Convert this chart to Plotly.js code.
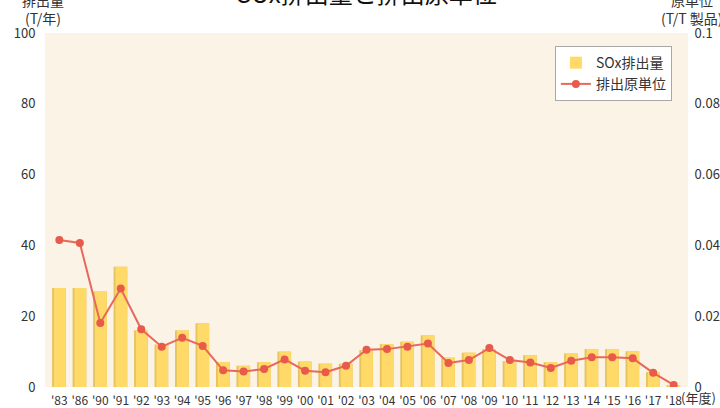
<!DOCTYPE html>
<html>
<head>
<meta charset="utf-8">
<script src="https://cdn.plot.ly/plotly-3.0.1.min.js"></script>
<style>html,body{margin:0;padding:0;background:#fff;}#chart{width:720px;height:408px;}</style>
</head>
<body>
<div id="chart"></div>
<script>
const years = ["'83","'86","'90","'91","'92","'93","'94","'95","'96","'97","'98","'99","'00","'01","'02","'03","'04","'05","'06","'07","'08","'09","'10","'11","'12","'13","'14","'15","'16","'17","'18"];
const emissions = [28, 28, 27, 34, 16, 12, 16, 18, 7, 6, 7, 10, 7.2, 6.6, 6.6, 10.4, 12.1, 12.8, 14.6, 8.3, 9.7, 10.7, 7.3, 9.0, 7.0, 9.5, 10.7, 10.7, 10.1, 4.2, 0.5];
const intensity = [0.0415, 0.0407, 0.0181, 0.0278, 0.0163, 0.0114, 0.0139, 0.0116, 0.0047, 0.0044, 0.0051, 0.0078, 0.0046, 0.0042, 0.0060, 0.0105, 0.0107, 0.0114, 0.0123, 0.0068, 0.0076, 0.0110, 0.0076, 0.0069, 0.0054, 0.0074, 0.0084, 0.0084, 0.0081, 0.0040, 0.0006];
const leftTicks = [0, 20, 40, 60, 80, 100];
const rightTicks = [0, 0.02, 0.04, 0.06, 0.08, 0.1];
const rightTickText = ["0", "0.02", "0.04", "0.06", "0.08", "0.1"];
const gridTicks = [20, 40, 60, 80];

const font = "'Noto Sans CJK JP', 'Noto Sans', sans-serif";

const traces = [
  {type: 'bar', x: years, y: emissions, width: 0.67, offset: -0.35,
   marker: {color: '#E6C35E'}, showlegend: false, hoverinfo: 'skip', yaxis: 'y'},
  {type: 'bar', x: years, y: emissions, width: 0.57, offset: -0.26, name: 'SOx排出量',
   marker: {color: '#FFDA68'}, yaxis: 'y'},
  {type: 'scatter', mode: 'lines+markers', x: years, y: intensity, name: '排出原単位', yaxis: 'y2',
   line: {color: '#E9685A', width: 2}, marker: {color: '#E85A4C', size: 8}}
];

const layout = {
  width: 720, height: 408,
  margin: {l: 45, r: 32, t: 33, b: 21},
  paper_bgcolor: '#ffffff',
  plot_bgcolor: '#FAF3E6',
  font: {family: font, color: '#333', size: 12},
  barmode: 'overlay',
  xaxis: {type: 'category', range: [-0.7, 30.7], showgrid: false, zeroline: false,
    showline: false, ticks: 'outside', ticklen: 3, tickcolor: 'rgba(0,0,0,0)',
    tickfont: {size: 12, color: '#333'}, fixedrange: true},
  yaxis: {range: [0, 100], tickvals: leftTicks, showgrid: false, zeroline: false, showline: false,
    ticks: 'outside', ticklen: 6, tickcolor: 'rgba(0,0,0,0)', tickfont: {size: 13, color: '#333'}},
  yaxis2: {range: [0, 0.1], overlaying: 'y', side: 'right', tickvals: rightTicks, ticktext: rightTickText,
    showgrid: false, zeroline: false, showline: false, ticks: 'outside', ticklen: 3,
    tickcolor: 'rgba(0,0,0,0)', tickfont: {size: 13, color: '#333'}},
  yaxis3: {range: [0, 100], overlaying: 'y', tickvals: gridTicks, showticklabels: false,
    showgrid: true, gridcolor: '#C9C1B2', griddash: 'dot', gridwidth: 1, zeroline: false, showline: false},
  legend: {x: 0.793, y: 0.963, xanchor: 'left', yanchor: 'top', bgcolor: '#ffffff',
    bordercolor: '#A8A8A8', borderwidth: 1, font: {size: 14, color: '#333'},
    traceorder: 'normal', itemwidth: 30},
  annotations: [
    {text: 'SOx排出量と排出原単位', xref: 'paper', yref: 'paper', x: 0.5, y: 1.113,
     xanchor: 'center', yanchor: 'middle', showarrow: false, font: {size: 24, color: '#111'}},
    {text: '排出量', xref: 'paper', yref: 'paper', x: -0.003, y: 1.092, xanchor: 'center', yanchor: 'middle',
     showarrow: false, font: {size: 14, color: '#333'}},
    {text: '(T/年)', xref: 'paper', yref: 'paper', x: -0.003, y: 1.043, xanchor: 'center', yanchor: 'middle',
     showarrow: false, font: {size: 14, color: '#333'}},
    {text: '原単位', xref: 'paper', yref: 'paper', x: 1.006, y: 1.092, xanchor: 'center', yanchor: 'middle',
     showarrow: false, font: {size: 14, color: '#333'}},
    {text: '(T/T 製品)', xref: 'paper', yref: 'paper', x: 1.006, y: 1.043, xanchor: 'center', yanchor: 'middle',
     showarrow: false, font: {size: 14, color: '#333'}},
    {text: '(年度)', xref: 'paper', yref: 'paper', x: 0.9865, y: -0.03, xanchor: 'left', yanchor: 'middle',
     showarrow: false, font: {size: 13, color: '#333'}}
  ]
};

Plotly.newPlot('chart', traces, layout, {displayModeBar: false, staticPlot: true});
</script>
</body>
</html>
